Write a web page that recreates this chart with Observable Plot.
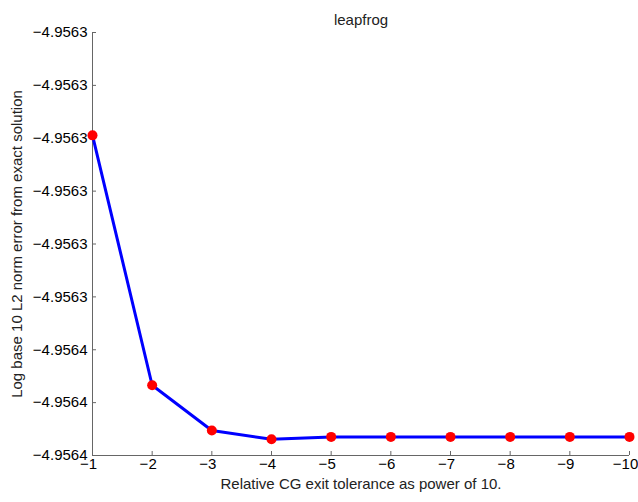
<!DOCTYPE html>
<html><head><meta charset="utf-8">
<script src="https://cdn.jsdelivr.net/npm/d3@7"></script>
<script src="https://cdn.jsdelivr.net/npm/@observablehq/plot@0.6"></script>
<style>body{margin:0;background:#fff}</style>
</head><body><div id="chart"></div>
<script>
const tolerancePowers = [-1, -2, -3, -4, -5, -6, -7, -8, -9, -10];
const log10Errors = [-4.9563459450, -4.9563506710, -4.9563515270, -4.9563516920, -4.9563516480,
                     -4.9563516480, -4.9563516480, -4.9563516480, -4.9563516480, -4.9563516480];
const xTicks = [-1, -2, -3, -4, -5, -6, -7, -8, -9, -10];
const xTickLabels = ["−1", "−2", "−3", "−4", "−5", "−6", "−7", "−8", "−9", "−10"];
const yTicks = [-4.956344, -4.956345, -4.956346, -4.956347, -4.956348, -4.956349, -4.956350, -4.956351, -4.956352];
const yTickLabels = ["−4.9563", "−4.9563", "−4.9563", "−4.9563", "−4.9563", "−4.9563", "−4.9564", "−4.9564", "−4.9564"];
const titleText = "leapfrog";
const xLabel = "Relative CG exit tolerance as power of 10.";
const yLabel = "Log base 10 L2 norm error from exact solution";

const data = tolerancePowers.map((x, i) => ({x, y: log10Errors[i]}));
const axisColor = "#666";

const chart = Plot.plot({
  width: 638,
  height: 502,
  marginLeft: 92,
  marginRight: 9,
  marginTop: 32,
  marginBottom: 47,
  style: {fontFamily: "'Liberation Sans', Arial, Helvetica, sans-serif", fontSize: "15px", color: "#000", background: "#fff", overflow: "visible"},
  x: {domain: [-1, -10], axis: null},
  y: {domain: [yTicks[yTicks.length - 1], yTicks[0]], axis: null},
  marks: [
    Plot.ruleX([xTicks[0]], {stroke: axisColor, strokeWidth: 1}),
    Plot.ruleY([yTicks[yTicks.length - 1]], {stroke: axisColor, strokeWidth: 1}),
    Plot.axisX(xTicks, {anchor: "bottom", tickSize: -4, stroke: axisColor, tickFormat: () => "", label: null}),
    Plot.text(xTicks, {x: d => d, frameAnchor: "bottom", dy: 13, dx: -4, fill: "#000", fontSize: 15,
      text: (d, i) => xTickLabels[i]}),
    Plot.axisY(yTicks, {anchor: "left", tickSize: -4, tickPadding: 9, stroke: axisColor, fill: "#000",
      tickFormat: (d, i) => yTickLabels[i], label: null}),
    Plot.line(data, {x: "x", y: "y", stroke: "#0000ff", strokeWidth: 3}),
    Plot.dot(data, {x: "x", y: "y", r: 5, fill: "#ff0000", stroke: "none"}),
    Plot.text([titleText], {frameAnchor: "top", dy: -18, fill: "#222", fontSize: 15}),
    Plot.text([xLabel], {frameAnchor: "bottom", dy: 33, fill: "#222", fontSize: 15}),
    Plot.text([yLabel], {frameAnchor: "left", textAnchor: "middle", dx: -75, rotate: -90, fill: "#222", fontSize: 15})
  ]
});
document.getElementById("chart").appendChild(chart);
</script>
</body></html>
